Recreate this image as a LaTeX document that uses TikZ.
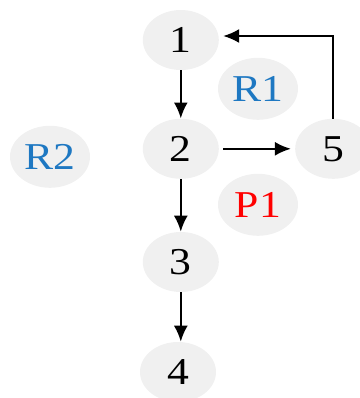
\documentclass[tikz,border=0pt]{standalone}
\usepackage{fontspec}
\setmainfont{Liberation Serif}[FakeStretch=1.15]
\usetikzlibrary{shapes,arrows.meta,positioning}
\definecolor{bubble}{HTML}{F0F0F0}
\definecolor{regblue}{HTML}{1E78C2}
\tikzset{
    state/.style={ellipse, fill=bubble, minimum width=1.9cm, minimum height=1.5cm, inner sep=0pt, font=\fontsize{27}{30}\selectfont},
    region/.style={state, minimum width=2.0cm, minimum height=1.55cm, text=regblue},
    place/.style={state, minimum width=2.0cm, minimum height=1.55cm, text=red},
    flow/.style={line width=1.6pt, -{Latex[length=4mm,width=3.5mm]}},
}

\begin{document}
\begin{tikzpicture}
    \useasboundingbox (0,0) rectangle (9,-9.95);

    % states
    \node[state] (n1) at (4.52,-1.0) {1};
    \node[state] (n2) at (4.52,-3.72) {2};
    \node[state] (n3) at (4.52,-6.55) {3};
    \node[state] (n4) at (4.45,-9.3) {4};
    \node[state] (n5) at (8.33,-3.72) {5};

    % regions
    \node[region] (r1) at (6.45,-2.22) {R1};
    \node[region] (r2) at (1.25,-3.92) {R2};
    \node[place] (p1) at (6.45,-5.12) {P1};

    % connectors
    \draw[flow] (n1) -- (n2);
    \draw[flow] ([xshift=1mm]n2.east) -- ([xshift=-1mm]n5.west);
    \draw[flow] (n2) -- (n3);
    \draw[flow] (n3.south) -- (n3.south |- n4.north);
    \draw[flow] (n5.north) |- ([xshift=1mm,yshift=0.1cm]n1.east);
\end{tikzpicture}
\end{document}
